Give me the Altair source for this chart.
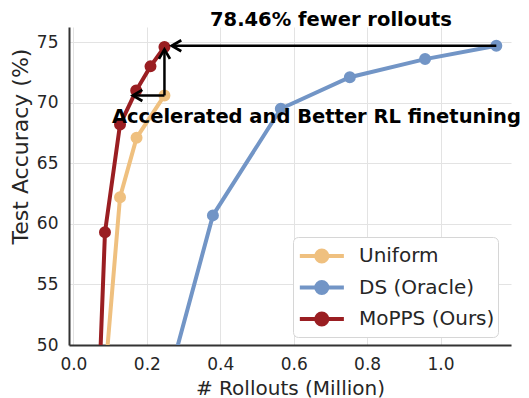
import altair as alt
import pandas as pd

series_names = ["Uniform", "DS (Oracle)", "MoPPS (Ours)"]
series_colors = ["#EFC07F", "#7295C6", "#9A1E22"]

uniform_x = [0.085, 0.127, 0.172, 0.248]
uniform_y = [47.0, 62.2, 67.1, 70.6]
ds_x = [0.24, 0.380, 0.565, 0.753, 0.958, 1.152]
ds_y = [45.0, 60.7, 69.5, 72.1, 73.6, 74.7]
mopps_x = [0.068, 0.086, 0.127, 0.171, 0.210, 0.248]
mopps_y = [45.0, 59.3, 68.2, 71.0, 73.0, 74.6]

x_ticks = [0.0, 0.2, 0.4, 0.6, 0.8, 1.0]
y_ticks = [50, 55, 60, 65, 70, 75]

arrow_x = [1.152, 0.248, 0.248]
arrow_y = [74.7, 70.6, 70.6]
arrow_x2 = [0.268, 0.248, 0.162]
arrow_y2 = [74.7, 74.4, 70.6]
arrow_head = ["left", "up", "left"]

annot_text = ["78.46% fewer rollouts", "Accelerated and Better RL finetuning"]
annot_x = [0.7016, 0.105]
annot_y = [76.36, 68.35]

rows = []
for name, xs, ys in zip(series_names, [uniform_x, ds_x, mopps_x], [uniform_y, ds_y, mopps_y]):
    for xv, yv in zip(xs, ys):
        rows.append({"series": name, "x": xv, "y": yv})
df = pd.DataFrame(rows)

arrows = pd.DataFrame({"x": arrow_x, "y": arrow_y, "x2": arrow_x2, "y2": arrow_y2, "head": arrow_head})
annots = pd.DataFrame({"text": annot_text, "x": annot_x, "y": annot_y})

FONT = "DejaVu Sans"

x_scale = alt.Scale(domain=[-0.012, 1.192], nice=False, zero=False)
y_scale = alt.Scale(domain=[50, 76.25], nice=False, zero=False)

x_enc = alt.X(
    "x:Q", scale=x_scale,
    axis=alt.Axis(values=x_ticks, format=".1f", title="# Rollouts (Million)",
                  titleY=49, titleBaseline="alphabetic", labelPadding=11),
)
y_enc = alt.Y(
    "y:Q", scale=y_scale,
    axis=alt.Axis(values=y_ticks, format="d", title="Test Accuracy (%)",
                  titleX=-49, titleY=119, titleAngle=270, titleAlign="center",
                  titleBaseline="middle", titleFontSize=22, labelPadding=11),
)

legend_path = "M-0.92,0L2.41,0M0.32,0A0.42,0.42,0,1,1,1.16,0A0.42,0.42,0,1,1,0.32,0Z"
color_scale = alt.Scale(domain=series_names, range=series_colors)
legend = alt.Legend(
    title=None, orient="none", legendX=224, legendY=210,
    symbolType=legend_path, symbolSize=700, symbolStrokeWidth=4, symbolOpacity=1,
    labelFontSize=20, labelFont=FONT, labelColor="#262626", labelOffset=31.5,
    padding=3.5, rowPadding=1.5, fillColor="white", strokeColor="#d6d6d6",
    cornerRadius=5,
)

layers = []
for i, name in enumerate(series_names):
    sub = alt.Chart(df).transform_filter(alt.datum.series == name)
    line = sub.mark_line(strokeWidth=4, clip=True).encode(
        x=x_enc, y=y_enc,
        stroke=alt.Stroke("series:N", scale=color_scale, legend=legend),
    )
    pts = sub.mark_point(filled=True, size=100, opacity=1, clip=True).encode(
        x="x:Q", y="y:Q",
        fill=alt.Fill("series:N", scale=color_scale, legend=legend),
        stroke=alt.Stroke("series:N", scale=color_scale, legend=legend),
    )
    layers += [line, pts]

shafts = alt.Chart(arrows).mark_rule(color="black", strokeWidth=2.5).encode(
    x="x:Q", y="y:Q", x2="x2:Q", y2="y2:Q"
)
head_left = alt.Chart(arrows).transform_filter(alt.datum.head == "left").mark_point(
    shape="M1.2,-0.7L0,0L1.2,0.7", size=250, filled=False, color="black",
    strokeWidth=2.8, opacity=1
).encode(x="x2:Q", y="y2:Q")
head_up = alt.Chart(arrows).transform_filter(alt.datum.head == "up").mark_point(
    shape="M-0.7,1.2L0,0L0.7,1.2", size=250, filled=False, color="black",
    strokeWidth=2.8, opacity=1
).encode(x="x2:Q", y="y2:Q")

txt1 = alt.Chart(annots).transform_filter(alt.datum.text == annot_text[0]).mark_text(
    font=FONT, fontSize=19.5, fontWeight="bold", color="black", align="center",
    baseline="alphabetic"
).encode(x="x:Q", y="y:Q", text="text:N")
txt2 = alt.Chart(annots).transform_filter(alt.datum.text == annot_text[1]).mark_text(
    font=FONT, fontSize=19.5, fontWeight="bold", color="black", align="left",
    baseline="alphabetic"
).encode(x="x:Q", y="y:Q", text="text:N")

chart = alt.layer(*layers, shafts, head_left, head_up, txt1, txt2).properties(
    width=442, height=318,
    autosize=alt.AutoSizeParams(type="none"),
    padding={"left": 61, "top": 19, "right": 10, "bottom": 53},
    background="white",
).configure_view(stroke=None).configure_axis(
    labelFont=FONT, titleFont=FONT, labelFontSize=17, titleFontSize=20,
    labelColor="#262626", titleColor="#262626", titleFontWeight="normal",
    ticks=False, grid=True, gridColor="#e3e3e3", gridWidth=1,
    domainColor="#333333", domainWidth=2,
)

chart.save("out.html", embed_options={"renderer": "svg", "actions": False})
